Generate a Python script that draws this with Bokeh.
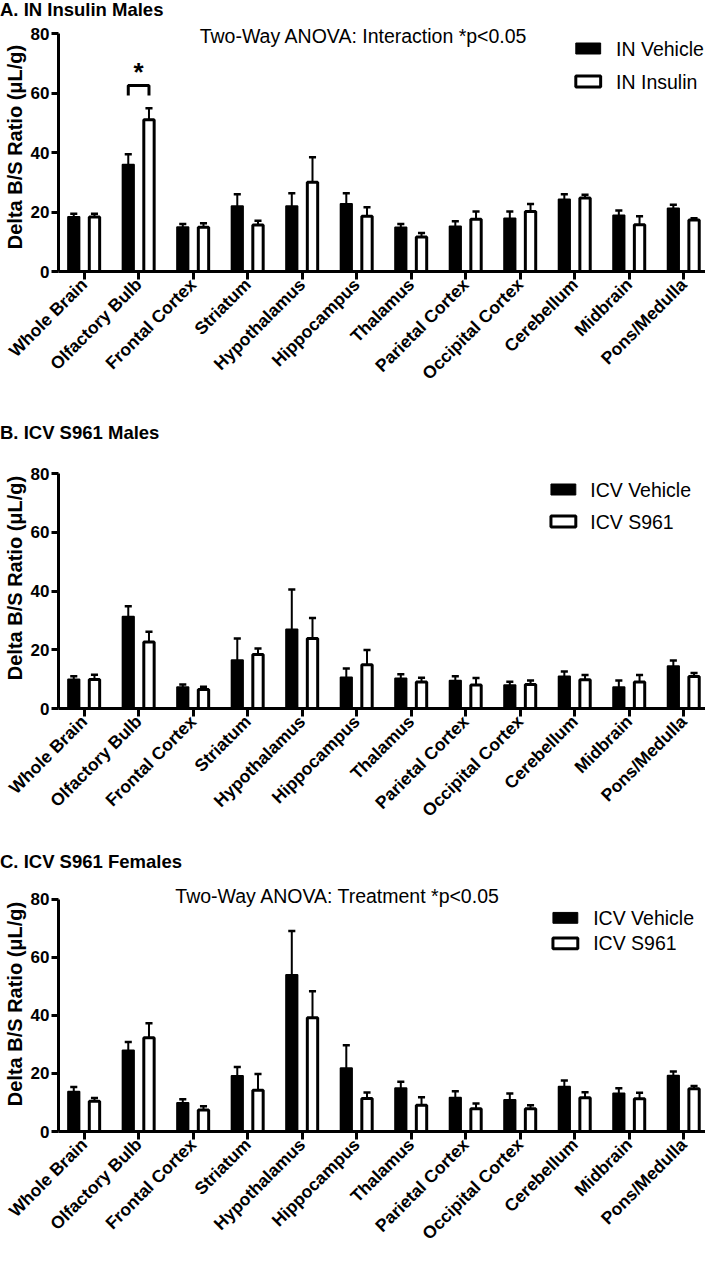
import numpy as np
from math import pi
from bokeh.plotting import figure
from bokeh.models import Range1d, FixedTicker, Label, Div
from bokeh.layouts import column
from bokeh.embed import file_html
from bokeh.resources import INLINE

# ---------------- data ----------------
regions = ["Whole Brain", "Olfactory Bulb", "Frontal Cortex", "Striatum", "Hypothalamus",
           "Hippocampus", "Thalamus", "Parietal Cortex", "Occipital Cortex", "Cerebellum",
           "Midbrain", "Pons/Medulla"]

y_ticks = [0, 20, 40, 60, 80]

# A. IN Insulin Males
a_vehicle = [18.4, 36.0, 15.0, 22.0, 22.0, 22.8, 14.9, 15.2, 17.9, 24.3, 18.9, 21.3]
a_vehicle_err = [1.0, 3.4, 1.0, 4.0, 4.3, 3.5, 1.1, 1.7, 2.3, 1.7, 1.6, 1.1]
a_insulin = [18.3, 51.0, 14.9, 15.6, 30.0, 18.6, 11.6, 17.6, 20.2, 24.7, 15.7, 17.3]
a_insulin_err = [1.1, 3.9, 1.3, 1.5, 8.4, 3.0, 1.3, 2.6, 2.5, 1.1, 2.9, 0.6]

# B. ICV S961 Males
b_vehicle = [10.0, 31.3, 7.3, 16.5, 27.0, 10.6, 10.3, 9.5, 8.0, 11.0, 7.3, 14.5]
b_vehicle_err = [1.0, 3.5, 0.9, 7.3, 13.5, 3.0, 1.4, 1.5, 1.1, 1.6, 2.2, 1.8]
b_s961 = [9.9, 22.6, 6.5, 18.4, 23.8, 14.9, 9.0, 8.0, 8.2, 9.8, 9.0, 10.9]
b_s961_err = [1.6, 3.5, 0.9, 2.0, 7.0, 5.0, 1.5, 2.4, 1.3, 1.6, 2.4, 1.2]

# C. ICV S961 Females
c_vehicle = [13.8, 28.0, 9.9, 19.2, 54.0, 21.9, 15.0, 11.7, 10.9, 15.5, 13.2, 19.3]
c_vehicle_err = [1.5, 2.8, 1.2, 3.0, 15.0, 7.8, 2.1, 2.2, 2.2, 2.1, 1.7, 1.4]
c_s961 = [10.4, 32.3, 7.4, 14.2, 39.2, 11.4, 9.0, 7.8, 7.8, 11.6, 11.3, 14.7]
c_s961_err = [1.1, 5.0, 1.3, 5.6, 9.1, 2.0, 2.8, 1.8, 1.2, 1.9, 2.0, 1.0]

FONT = "Liberation Sans"
W = 705
BL = 54            # left border (px)
XL, XR = -0.47, 11.40
PPX = (W - BL) / (XR - XL)
FRAME_LEFT_PAGE = 8 + BL


def title_div(text, h):
    return Div(text=text, width=W, height=h, margin=(0, 0, 0, 0),
               styles={"font-family": FONT, "font-size": "18.5px", "font-weight": "bold",
                       "color": "black", "line-height": "20px"})


def make_panel(veh, veh_err, trt, trt_err, leg, anova, fig_top, height, y80, y0,
               anova_pos, leg_box_x, leg_ys, leg_text_x, bracket=None):
    ppy = (y0 - y80) / 80.0
    pad = y80 - fig_top
    frame_h = y0 - fig_top
    bot_b = height - frame_h

    def dx(px):
        return XL + (px - FRAME_LEFT_PAGE) / PPX

    def dy(py):
        return 80 - (py - y80) / ppy

    p = figure(width=W, height=height, output_backend="svg", toolbar_location=None,
               x_range=Range1d(XL, XR), y_range=Range1d(0, 80 + pad / ppy),
               min_border_left=BL, min_border_right=0, min_border_top=0,
               min_border_bottom=bot_b)
    p.outline_line_color = None
    p.xgrid.grid_line_color = None
    p.ygrid.grid_line_color = None
    p.background_fill_color = "white"
    p.border_fill_color = "white"

    x = np.arange(len(regions), dtype=float)
    off = 0.19
    veh = np.array(veh); veh_err = np.array(veh_err)
    trt = np.array(trt); trt_err = np.array(trt_err)
    cap = 0.065

    # error bars (upper only)
    for xs, v, e in ((x - off, veh, veh_err), (x + off, trt, trt_err)):
        p.segment(x0=xs, y0=v, x1=xs, y1=v + e, line_color="black", line_width=2)
        p.segment(x0=xs - cap, y0=v + e, x1=xs + cap, y1=v + e, line_color="black", line_width=2.5)

    p.vbar(x=x - off, width=0.215, top=veh, bottom=0, fill_color="black",
           line_color="black", line_width=1.5)
    p.vbar(x=x + off, width=0.19, top=trt, bottom=0, fill_color="white",
           line_color="black", line_width=3)

    # axes
    p.xaxis.ticker = FixedTicker(ticks=list(range(len(regions))))
    p.xaxis.major_label_overrides = {i: r for i, r in enumerate(regions)}
    p.xaxis.major_label_orientation = pi / 4
    p.xaxis.major_label_text_font = FONT
    p.xaxis.major_label_text_font_style = "bold"
    p.xaxis.major_label_text_font_size = "17.5px"
    p.xaxis.major_label_text_color = "black"
    p.xaxis.axis_line_width = 3
    p.xaxis.axis_line_color = "black"
    p.xaxis.major_tick_line_width = 3
    p.xaxis.major_tick_line_color = "black"
    p.xaxis.major_tick_out = 8
    p.xaxis.major_tick_in = 0
    p.xaxis.minor_tick_line_color = None
    p.xaxis.major_label_standoff = 2

    p.yaxis.ticker = FixedTicker(ticks=y_ticks)
    p.yaxis.bounds = (0, 80)
    p.yaxis.axis_label = "Delta B/S Ratio (\u03bcL/g)"
    p.yaxis.axis_label_text_font = FONT
    p.yaxis.axis_label_text_font_style = "bold"
    p.yaxis.axis_label_text_font_size = "20px"
    p.yaxis.axis_label_text_color = "black"
    p.yaxis.axis_label_standoff = 2
    p.yaxis.major_label_text_font = FONT
    p.yaxis.major_label_text_font_style = "bold"
    p.yaxis.major_label_text_font_size = "17px"
    p.yaxis.major_label_text_color = "black"
    p.yaxis.major_label_standoff = 2
    p.yaxis.axis_line_width = 3
    p.yaxis.axis_line_color = "black"
    p.yaxis.major_tick_line_width = 3
    p.yaxis.major_tick_line_color = "black"
    p.yaxis.major_tick_out = 7
    p.yaxis.major_tick_in = 0
    p.yaxis.minor_tick_line_color = None

    # ANOVA note
    if anova:
        p.add_layout(Label(x=dx(anova_pos[0]), y=dy(anova_pos[1]), text=anova, text_font=FONT,
                           text_font_size="19.5px", text_baseline="middle",
                           text_align="center", text_color="black"))
    # legend
    bw = 25 / PPX
    bh = 11 / ppy
    for i, (lab, fill) in enumerate(zip(leg, ["black", "white"])):
        cy = dy(leg_ys[i])
        p.rect(x=[dx(leg_box_x)], y=[cy], width=bw, height=bh, fill_color=fill,
               line_color="black", line_width=3 if fill == "white" else 1)
        p.add_layout(Label(x=dx(leg_text_x), y=cy, text=lab, text_font=FONT,
                           text_font_size="19.5px", text_baseline="middle",
                           text_align="left", text_color="black"))
    # significance bracket
    if bracket is not None:
        i0 = bracket
        ytop = dy(93)
        yleg = dy(103)
        p.line(x=[i0 - off, i0 - off, i0 + off, i0 + off], y=[yleg, ytop, ytop, yleg],
               line_color="black", line_width=3)
        p.add_layout(Label(x=i0, y=dy(79), text="*", text_font=FONT, text_font_style="bold",
                           text_font_size="26px", text_baseline="middle",
                           text_align="center", text_color="black"))
    return p


dA = title_div("A. IN Insulin Males", 22)
pA = make_panel(a_vehicle, a_vehicle_err, a_insulin, a_insulin_err,
                ["IN Vehicle", "IN Insulin"], "Two-Way ANOVA: Interaction *p<0.05",
                fig_top=30, height=401, y80=41, y0=279,
                anova_pos=(369, 43), leg_box_x=595, leg_ys=(56, 89), leg_text_x=623,
                bracket=1)
dB = title_div("B. ICV S961 Males", 24)
pB = make_panel(b_vehicle, b_vehicle_err, b_s961, b_s961_err,
                ["ICV Vehicle", "ICV S961"], None,
                fig_top=455, height=405, y80=481, y0=716,
                anova_pos=None, leg_box_x=570, leg_ys=(497, 529), leg_text_x=597)
dC = title_div("C. ICV S961 Females", 24)
pC = make_panel(c_vehicle, c_vehicle_err, c_s961, c_s961_err,
                ["ICV Vehicle", "ICV S961"], "Two-Way ANOVA: Treatment *p<0.05",
                fig_top=884, height=377, y80=907, y0=1143,
                anova_pos=(343, 904), leg_box_x=572, leg_ys=(926, 952), leg_text_x=600)

layout = column(dA, pA, dB, pB, dC, pC, spacing=0)
open("out.html", "w").write(file_html(layout, INLINE))
